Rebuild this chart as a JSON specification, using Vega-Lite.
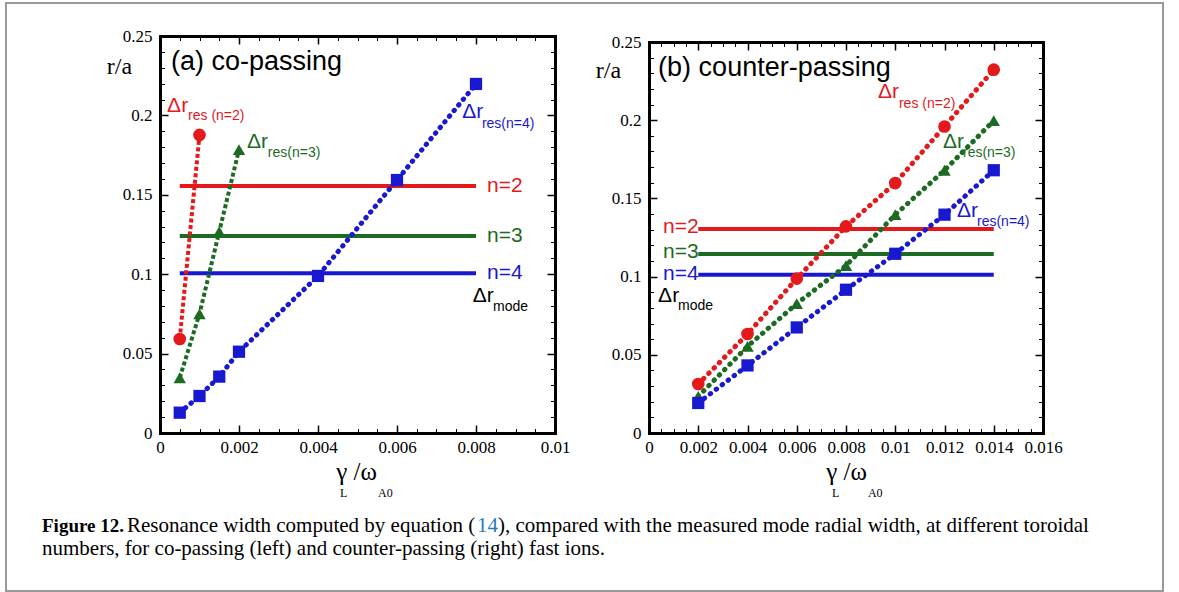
{
"$schema":"https://vega.github.io/schema/vega-lite/v6.json",
"width":1157,"height":588,
"autosize":{"type":"none"},
"padding":{"left":6,"top":3,"right":16,"bottom":1},
"background":"white",
"config":{
 "view":{"stroke":"#9a9a9a","strokeWidth":2},
 "axis":{"labelFont":"Liberation Serif","labelFontSize":17,"labelColor":"#000","titleFont":"Liberation Serif","titleFontWeight":"normal","titleColor":"#000","domainColor":"#000","tickColor":"#000","grid":false,"labelOverlap":false,"labelFlush":false,"domainCap":"square"},
 "text":{"font":"Liberation Sans"}
},
"datasets":{
 "resA":[
  {"n":"n=2","g":0.0005,"r":0.0592},{"n":"n=2","g":0.001,"r":0.1877},
  {"n":"n=3","g":0.0005,"r":0.0348},{"n":"n=3","g":0.001,"r":0.075},{"n":"n=3","g":0.0015,"r":0.1268},{"n":"n=3","g":0.002,"r":0.1784},
  {"n":"n=4","g":0.0005,"r":0.0128},{"n":"n=4","g":0.001,"r":0.0233},{"n":"n=4","g":0.0015,"r":0.0355},{"n":"n=4","g":0.002,"r":0.0512},{"n":"n=4","g":0.004,"r":0.0989},{"n":"n=4","g":0.006,"r":0.1593},{"n":"n=4","g":0.008,"r":0.2198}
 ],
 "resB":[
  {"n":"n=2","g":0.002,"r":0.0313},{"n":"n=2","g":0.004,"r":0.0633},{"n":"n=2","g":0.006,"r":0.0987},{"n":"n=2","g":0.008,"r":0.1321},{"n":"n=2","g":0.01,"r":0.1598},{"n":"n=2","g":0.012,"r":0.196},{"n":"n=2","g":0.014,"r":0.2323},
  {"n":"n=3","g":0.002,"r":0.0234},{"n":"n=3","g":0.004,"r":0.0554},{"n":"n=3","g":0.006,"r":0.0827},{"n":"n=3","g":0.008,"r":0.107},{"n":"n=3","g":0.01,"r":0.1396},{"n":"n=3","g":0.012,"r":0.168},{"n":"n=3","g":0.014,"r":0.1997},
  {"n":"n=4","g":0.002,"r":0.0192},{"n":"n=4","g":0.004,"r":0.0432},{"n":"n=4","g":0.006,"r":0.0675},{"n":"n=4","g":0.008,"r":0.0916},{"n":"n=4","g":0.01,"r":0.1146},{"n":"n=4","g":0.012,"r":0.1396},{"n":"n=4","g":0.014,"r":0.168}
 ],
 "modeA":[
  {"n":"n=2","g1":0.0005,"g2":0.008,"r":0.1555},
  {"n":"n=3","g1":0.0005,"g2":0.008,"r":0.124},
  {"n":"n=4","g1":0.0005,"g2":0.008,"r":0.1006}
 ],
 "modeB":[
  {"n":"n=2","g1":0.002,"g2":0.014,"r":0.1305},
  {"n":"n=3","g1":0.002,"g2":0.014,"r":0.1145},
  {"n":"n=4","g1":0.002,"g2":0.014,"r":0.1012}
 ],
 "annA":[
  {"k":"t","n":"mode","t":"(a) co-passing","g":0.00028,"r":0.2286},
  {"k":"d","n":"n=2","t":"Δr","g":0.00018,"r":0.2021},
  {"k":"s","n":"n=2","t":"res (n=2)","g":0.00071,"r":0.197},
  {"k":"d","n":"n=3","t":"Δr","g":0.0022,"r":0.1795},
  {"k":"s","n":"n=3","t":"res(n=3)","g":0.00273,"r":0.1738},
  {"k":"d","n":"n=4","t":"Δr","g":0.00765,"r":0.1984},
  {"k":"s","n":"n=4","t":"res(n=4)","g":0.00815,"r":0.192},
  {"k":"n","n":"n=2","t":"n=2","g":0.00828,"r":0.1555},
  {"k":"n","n":"n=3","t":"n=3","g":0.00828,"r":0.124},
  {"k":"n","n":"n=4","t":"n=4","g":0.00828,"r":0.1006},
  {"k":"d","n":"mode","t":"Δr","g":0.00792,"r":0.0825},
  {"k":"s","n":"mode","t":"mode","g":0.00843,"r":0.0768},
  {"k":"a","n":"mode","t":"L","g":0.00456,"r":-0.0402},
  {"k":"a","n":"mode","t":"A0","g":0.00552,"r":-0.0402}
 ],
 "annB":[
  {"k":"t","n":"mode","t":"(b) counter-passing","g":0.00037,"r":0.2285},
  {"k":"d","n":"n=2","t":"Δr","g":0.0093,"r":0.2142},
  {"k":"s","n":"n=2","t":"res (n=2)","g":0.01015,"r":0.2078},
  {"k":"d","n":"n=3","t":"Δr","g":0.01194,"r":0.1822},
  {"k":"s","n":"n=3","t":"res(n=3)","g":0.01275,"r":0.1765},
  {"k":"d","n":"n=4","t":"Δr","g":0.01251,"r":0.1381},
  {"k":"s","n":"n=4","t":"res(n=4)","g":0.01332,"r":0.1324},
  {"k":"n","n":"n=2","t":"n=2","g":0.00057,"r":0.1317},
  {"k":"n","n":"n=3","t":"n=3","g":0.00057,"r":0.1157},
  {"k":"n","n":"n=4","t":"n=4","g":0.00057,"r":0.1017},
  {"k":"d","n":"mode","t":"Δr","g":0.00037,"r":0.0838},
  {"k":"s","n":"mode","t":"mode","g":0.00118,"r":0.0786},
  {"k":"a","n":"mode","t":"L","g":0.00743,"r":-0.0408},
  {"k":"a","n":"mode","t":"A0","g":0.00889,"r":-0.0408}
 ]
},
"layer":[
 {
  "resolve":{"axis":{"x":"independent","y":"independent"}},
  "layer":[
   {"data":{"name":"resA"},"mark":{"type":"point","opacity":0},
    "encoding":{
     "x":{"field":"g","type":"quantitative","scale":{"domain":[0,0.01],"range":[154,549],"nice":false,"zero":false},
      "axis":{"orient":"bottom","offset":-158,"values":[0,0.002,0.004,0.006,0.008,0.01],"format":"~g","ticks":false,"domainWidth":3,"labelPadding":6,"title":"γ /ω","titleFontSize":25,"titleX":350,"titleY":46,"titleAlign":"center","titleBaseline":"alphabetic","zindex":2}},
     "y":{"field":"r","type":"quantitative","scale":{"domain":[0,0.25],"range":[430,33],"nice":false,"zero":false},
      "axis":{"orient":"left","offset":-154,"values":[0,0.05,0.1,0.15,0.2,0.25],"format":"~g","ticks":false,"domainWidth":3,"labelPadding":8,"title":"r/a","titleFontSize":24,"titleAngle":0,"titleX":-41,"titleY":70,"titleAlign":"center","titleBaseline":"alphabetic","zindex":2}}}},
   {"data":{"name":"resA"},"mark":{"type":"point","opacity":0},
    "encoding":{
     "x":{"field":"g","type":"quantitative","axis":{"orient":"bottom","offset":-158,"values":[0,0.002,0.004,0.006,0.008,0.01],"domain":false,"labels":false,"tickSize":-8,"tickWidth":1.5,"title":null}},
     "y":{"field":"r","type":"quantitative","axis":{"orient":"left","offset":-154,"values":[0,0.05,0.1,0.15,0.2,0.25],"domain":false,"labels":false,"tickSize":-8,"tickWidth":1.5,"title":null}}}},
   {"data":{"name":"resA"},"mark":{"type":"point","opacity":0},
    "encoding":{
     "x":{"field":"g","type":"quantitative","axis":{"orient":"bottom","offset":-158,"values":[0,0.0005,0.001,0.0015,0.002,0.0025,0.003,0.0035,0.004,0.0045,0.005,0.0055,0.006,0.0065,0.007,0.0075,0.008,0.0085,0.009,0.0095,0.01],"domain":false,"labels":false,"tickSize":-4.5,"tickWidth":1,"title":null}},
     "y":{"field":"r","type":"quantitative","axis":{"orient":"left","offset":-154,"values":[0,0.01,0.02,0.03,0.04,0.05,0.06,0.07,0.08,0.09,0.1,0.11,0.12,0.13,0.14,0.15,0.16,0.17,0.18,0.19,0.2,0.21,0.22,0.23,0.24,0.25],"domain":false,"labels":false,"tickSize":-4.5,"tickWidth":1,"title":null}}}},
   {"data":{"name":"resA"},"mark":{"type":"point","opacity":0},
    "encoding":{
     "x":{"field":"g","type":"quantitative","axis":{"orient":"top","offset":-33,"values":[0,0.002,0.004,0.006,0.008,0.01],"domainWidth":3,"labels":false,"tickSize":-8,"tickWidth":1.5,"title":null,"zindex":2}},
     "y":{"field":"r","type":"quantitative","axis":{"orient":"right","offset":-608,"values":[0,0.05,0.1,0.15,0.2,0.25],"domainWidth":3,"labels":false,"tickSize":-8,"tickWidth":1.5,"title":null,"zindex":2}}}},
   {"data":{"name":"resA"},"mark":{"type":"point","opacity":0},
    "encoding":{
     "x":{"field":"g","type":"quantitative","axis":{"orient":"top","offset":-33,"values":[0,0.0005,0.001,0.0015,0.002,0.0025,0.003,0.0035,0.004,0.0045,0.005,0.0055,0.006,0.0065,0.007,0.0075,0.008,0.0085,0.009,0.0095,0.01],"domain":false,"labels":false,"tickSize":-4.5,"tickWidth":1,"title":null}},
     "y":{"field":"r","type":"quantitative","axis":{"orient":"right","offset":-608,"values":[0,0.01,0.02,0.03,0.04,0.05,0.06,0.07,0.08,0.09,0.1,0.11,0.12,0.13,0.14,0.15,0.16,0.17,0.18,0.19,0.2,0.21,0.22,0.23,0.24,0.25],"domain":false,"labels":false,"tickSize":-4.5,"tickWidth":1,"title":null}}}},
   {"data":{"name":"modeA"},"mark":{"type":"rule","strokeWidth":4},
    "encoding":{"x":{"field":"g1","type":"quantitative","axis":null},"x2":{"field":"g2"},"y":{"field":"r","type":"quantitative","axis":null},
     "color":{"field":"n","type":"nominal","scale":{"domain":["n=2","n=3","n=4","mode"],"range":["#e3191c","#1d6b22","#1818d0","#000000"]},"legend":null}}},
   {"data":{"name":"resA"},"transform":[{"filter":"datum.n != 'n=4'"}],"mark":{"type":"line","strokeWidth":4,"strokeDash":[4,2.5]},
    "encoding":{"x":{"field":"g","type":"quantitative","axis":null},"y":{"field":"r","type":"quantitative","axis":null},"color":{"field":"n","type":"nominal","legend":null}}},
   {"data":{"name":"resA"},"transform":[{"filter":"datum.n == 'n=4'"}],"mark":{"type":"line","strokeWidth":5,"strokeDash":[0.5,6.8],"strokeCap":"round"},
    "encoding":{"x":{"field":"g","type":"quantitative","axis":null},"y":{"field":"r","type":"quantitative","axis":null},"color":{"field":"n","type":"nominal","legend":null}}},
   {"data":{"name":"resA"},"mark":{"type":"point","filled":true,"opacity":1},
    "encoding":{"x":{"field":"g","type":"quantitative","axis":null},"y":{"field":"r","type":"quantitative","axis":null},"color":{"field":"n","type":"nominal","legend":null},
     "shape":{"field":"n","type":"nominal","scale":{"domain":["n=2","n=3","n=4"],"range":["circle","triangle-up","square"]},"legend":null},
     "size":{"field":"n","type":"nominal","scale":{"domain":["n=2","n=3","n=4"],"range":[160,150,110]},"legend":null}}},
   {"data":{"name":"annA"},"transform":[{"filter":"datum.k == 't'"}],"mark":{"type":"text","align":"left","baseline":"alphabetic","fontSize":27,"font":"Liberation Sans"},
    "encoding":{"x":{"field":"g","type":"quantitative","axis":null},"y":{"field":"r","type":"quantitative","axis":null},"text":{"field":"t"},"color":{"field":"n","type":"nominal","legend":null}}},
   {"data":{"name":"annA"},"transform":[{"filter":"datum.k == 'd'"}],"mark":{"type":"text","align":"left","baseline":"alphabetic","fontSize":21,"font":"Liberation Sans"},
    "encoding":{"x":{"field":"g","type":"quantitative","axis":null},"y":{"field":"r","type":"quantitative","axis":null},"text":{"field":"t"},"color":{"field":"n","type":"nominal","legend":null}}},
   {"data":{"name":"annA"},"transform":[{"filter":"datum.k == 's'"}],"mark":{"type":"text","align":"left","baseline":"alphabetic","fontSize":14,"font":"Liberation Sans"},
    "encoding":{"x":{"field":"g","type":"quantitative","axis":null},"y":{"field":"r","type":"quantitative","axis":null},"text":{"field":"t"},"color":{"field":"n","type":"nominal","legend":null}}},
   {"data":{"name":"annA"},"transform":[{"filter":"datum.k == 'n'"}],"mark":{"type":"text","align":"left","baseline":"middle","fontSize":21,"font":"Liberation Sans"},
    "encoding":{"x":{"field":"g","type":"quantitative","axis":null},"y":{"field":"r","type":"quantitative","axis":null},"text":{"field":"t"},"color":{"field":"n","type":"nominal","legend":null}}},
   {"data":{"name":"annA"},"transform":[{"filter":"datum.k == 'a'"}],"mark":{"type":"text","align":"left","baseline":"alphabetic","fontSize":12,"font":"Liberation Serif"},
    "encoding":{"x":{"field":"g","type":"quantitative","axis":null},"y":{"field":"r","type":"quantitative","axis":null},"text":{"field":"t"},"color":{"field":"n","type":"nominal","legend":null}}}
  ]
 },
 {
  "resolve":{"axis":{"x":"independent","y":"independent"}},
  "layer":[
   {"data":{"name":"resB"},"mark":{"type":"point","opacity":0},
    "encoding":{
     "x":{"field":"g","type":"quantitative","scale":{"domain":[0,0.016],"range":[643,1037],"nice":false,"zero":false},
      "axis":{"orient":"bottom","offset":-158,"values":[0,0.002,0.004,0.006,0.008,0.01,0.012,0.014,0.016],"format":"~g","ticks":false,"domainWidth":3,"labelPadding":6,"title":"γ /ω","titleFontSize":25,"titleX":840,"titleY":46,"titleAlign":"center","titleBaseline":"alphabetic","zindex":2}},
     "y":{"field":"r","type":"quantitative","scale":{"domain":[0,0.25],"range":[430,39],"nice":false,"zero":false},
      "axis":{"orient":"left","offset":-643,"values":[0,0.05,0.1,0.15,0.2,0.25],"format":"~g","ticks":false,"domainWidth":3,"labelPadding":8,"title":"r/a","titleFontSize":24,"titleAngle":0,"titleX":-41,"titleY":74,"titleAlign":"center","titleBaseline":"alphabetic","zindex":2}}}},
   {"data":{"name":"resB"},"mark":{"type":"point","opacity":0},
    "encoding":{
     "x":{"field":"g","type":"quantitative","axis":{"orient":"bottom","offset":-158,"values":[0,0.002,0.004,0.006,0.008,0.01,0.012,0.014,0.016],"domain":false,"labels":false,"tickSize":-8,"tickWidth":1.5,"title":null}},
     "y":{"field":"r","type":"quantitative","axis":{"orient":"left","offset":-643,"values":[0,0.05,0.1,0.15,0.2,0.25],"domain":false,"labels":false,"tickSize":-8,"tickWidth":1.5,"title":null}}}},
   {"data":{"name":"resB"},"mark":{"type":"point","opacity":0},
    "encoding":{
     "x":{"field":"g","type":"quantitative","axis":{"orient":"bottom","offset":-158,"values":[0,0.0005,0.001,0.0015,0.002,0.0025,0.003,0.0035,0.004,0.0045,0.005,0.0055,0.006,0.0065,0.007,0.0075,0.008,0.0085,0.009,0.0095,0.01,0.0105,0.011,0.0115,0.012,0.0125,0.013,0.0135,0.014,0.0145,0.015,0.0155,0.016],"domain":false,"labels":false,"tickSize":-4.5,"tickWidth":1,"title":null}},
     "y":{"field":"r","type":"quantitative","axis":{"orient":"left","offset":-643,"values":[0,0.01,0.02,0.03,0.04,0.05,0.06,0.07,0.08,0.09,0.1,0.11,0.12,0.13,0.14,0.15,0.16,0.17,0.18,0.19,0.2,0.21,0.22,0.23,0.24,0.25],"domain":false,"labels":false,"tickSize":-4.5,"tickWidth":1,"title":null}}}},
   {"data":{"name":"resB"},"mark":{"type":"point","opacity":0},
    "encoding":{
     "x":{"field":"g","type":"quantitative","axis":{"orient":"top","offset":-39,"values":[0,0.002,0.004,0.006,0.008,0.01,0.012,0.014,0.016],"domainWidth":3,"labels":false,"tickSize":-8,"tickWidth":1.5,"title":null,"zindex":2}},
     "y":{"field":"r","type":"quantitative","axis":{"orient":"right","offset":-120,"values":[0,0.05,0.1,0.15,0.2,0.25],"domainWidth":3,"labels":false,"tickSize":-8,"tickWidth":1.5,"title":null,"zindex":2}}}},
   {"data":{"name":"resB"},"mark":{"type":"point","opacity":0},
    "encoding":{
     "x":{"field":"g","type":"quantitative","axis":{"orient":"top","offset":-39,"values":[0,0.0005,0.001,0.0015,0.002,0.0025,0.003,0.0035,0.004,0.0045,0.005,0.0055,0.006,0.0065,0.007,0.0075,0.008,0.0085,0.009,0.0095,0.01,0.0105,0.011,0.0115,0.012,0.0125,0.013,0.0135,0.014,0.0145,0.015,0.0155,0.016],"domain":false,"labels":false,"tickSize":-4.5,"tickWidth":1,"title":null}},
     "y":{"field":"r","type":"quantitative","axis":{"orient":"right","offset":-120,"values":[0,0.01,0.02,0.03,0.04,0.05,0.06,0.07,0.08,0.09,0.1,0.11,0.12,0.13,0.14,0.15,0.16,0.17,0.18,0.19,0.2,0.21,0.22,0.23,0.24,0.25],"domain":false,"labels":false,"tickSize":-4.5,"tickWidth":1,"title":null}}}},
   {"data":{"name":"modeB"},"mark":{"type":"rule","strokeWidth":4},
    "encoding":{"x":{"field":"g1","type":"quantitative","axis":null},"x2":{"field":"g2"},"y":{"field":"r","type":"quantitative","axis":null},
     "color":{"field":"n","type":"nominal","scale":{"domain":["n=2","n=3","n=4","mode"],"range":["#e3191c","#1d6b22","#1818d0","#000000"]},"legend":null}}},
   {"data":{"name":"resB"},"mark":{"type":"line","strokeWidth":5,"strokeDash":[0.5,7],"strokeCap":"round"},
    "encoding":{"x":{"field":"g","type":"quantitative","axis":null},"y":{"field":"r","type":"quantitative","axis":null},"color":{"field":"n","type":"nominal","legend":null}}},
   {"data":{"name":"resB"},"mark":{"type":"point","filled":true,"opacity":1},
    "encoding":{"x":{"field":"g","type":"quantitative","axis":null},"y":{"field":"r","type":"quantitative","axis":null},"color":{"field":"n","type":"nominal","legend":null},
     "shape":{"field":"n","type":"nominal","scale":{"domain":["n=2","n=3","n=4"],"range":["circle","triangle-up","square"]},"legend":null},
     "size":{"field":"n","type":"nominal","scale":{"domain":["n=2","n=3","n=4"],"range":[160,150,110]},"legend":null}}},
   {"data":{"name":"annB"},"transform":[{"filter":"datum.k == 't'"}],"mark":{"type":"text","align":"left","baseline":"alphabetic","fontSize":27,"font":"Liberation Sans"},
    "encoding":{"x":{"field":"g","type":"quantitative","axis":null},"y":{"field":"r","type":"quantitative","axis":null},"text":{"field":"t"},"color":{"field":"n","type":"nominal","legend":null}}},
   {"data":{"name":"annB"},"transform":[{"filter":"datum.k == 'd'"}],"mark":{"type":"text","align":"left","baseline":"alphabetic","fontSize":21,"font":"Liberation Sans"},
    "encoding":{"x":{"field":"g","type":"quantitative","axis":null},"y":{"field":"r","type":"quantitative","axis":null},"text":{"field":"t"},"color":{"field":"n","type":"nominal","legend":null}}},
   {"data":{"name":"annB"},"transform":[{"filter":"datum.k == 's'"}],"mark":{"type":"text","align":"left","baseline":"alphabetic","fontSize":14,"font":"Liberation Sans"},
    "encoding":{"x":{"field":"g","type":"quantitative","axis":null},"y":{"field":"r","type":"quantitative","axis":null},"text":{"field":"t"},"color":{"field":"n","type":"nominal","legend":null}}},
   {"data":{"name":"annB"},"transform":[{"filter":"datum.k == 'n'"}],"mark":{"type":"text","align":"left","baseline":"middle","fontSize":21,"font":"Liberation Sans"},
    "encoding":{"x":{"field":"g","type":"quantitative","axis":null},"y":{"field":"r","type":"quantitative","axis":null},"text":{"field":"t"},"color":{"field":"n","type":"nominal","legend":null}}},
   {"data":{"name":"annB"},"transform":[{"filter":"datum.k == 'a'"}],"mark":{"type":"text","align":"left","baseline":"alphabetic","fontSize":12,"font":"Liberation Serif"},
    "encoding":{"x":{"field":"g","type":"quantitative","axis":null},"y":{"field":"r","type":"quantitative","axis":null},"text":{"field":"t"},"color":{"field":"n","type":"nominal","legend":null}}}
  ]
 },
 {
  "layer":[
   {"data":{"values":[{"t":"Figure 12."}]},"mark":{"type":"text","align":"left","baseline":"alphabetic","font":"Liberation Serif","fontSize":19,"fontWeight":"bold","color":"#000"},
    "encoding":{"x":{"datum":36,"type":"quantitative","scale":{"domain":[0,1157],"range":[0,1157],"nice":false,"zero":false},"axis":null},"y":{"datum":529,"type":"quantitative","scale":{"domain":[0,588],"range":[0,588],"nice":false,"zero":false},"axis":null},"text":{"field":"t"}}},
   {"data":{"values":[{"t":"Resonance width computed by equation ("}]},"mark":{"type":"text","align":"left","baseline":"alphabetic","font":"Liberation Serif","fontSize":21,"color":"#000"},
    "encoding":{"x":{"datum":121,"type":"quantitative","axis":null},"y":{"datum":529,"type":"quantitative","axis":null},"text":{"field":"t"}}},
   {"data":{"values":[{"t":"14"}]},"mark":{"type":"text","align":"left","baseline":"alphabetic","font":"Liberation Serif","fontSize":21,"color":"#2b7bb9"},
    "encoding":{"x":{"datum":471,"type":"quantitative","axis":null},"y":{"datum":529,"type":"quantitative","axis":null},"text":{"field":"t"}}},
   {"data":{"values":[{"t":"), compared with the measured mode radial width, at different toroidal"}]},"mark":{"type":"text","align":"left","baseline":"alphabetic","font":"Liberation Serif","fontSize":21,"color":"#000"},
    "encoding":{"x":{"datum":492,"type":"quantitative","axis":null},"y":{"datum":529,"type":"quantitative","axis":null},"text":{"field":"t"}}},
   {"data":{"values":[{"t":"numbers, for co-passing (left) and counter-passing (right) fast ions."}]},"mark":{"type":"text","align":"left","baseline":"alphabetic","font":"Liberation Serif","fontSize":21,"color":"#000"},
    "encoding":{"x":{"datum":36,"type":"quantitative","axis":null},"y":{"datum":552,"type":"quantitative","axis":null},"text":{"field":"t"}}}
  ]
 }
],
"resolve":{"scale":{"x":"independent","y":"independent","color":"independent","shape":"independent","size":"independent"},"axis":{"x":"independent","y":"independent"}}
}
